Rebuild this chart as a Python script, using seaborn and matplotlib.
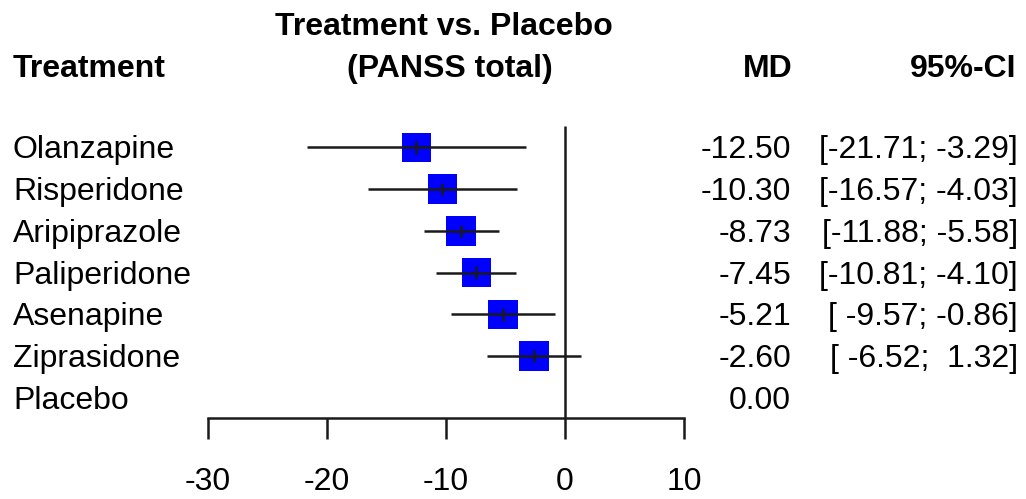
import numpy as np
import pandas as pd
import matplotlib
matplotlib.use("Agg")
import matplotlib.pyplot as plt
import matplotlib.transforms as mtransforms
import seaborn as sns

# Network meta-analysis results: mean difference in PANSS total vs placebo
treatments = ["Olanzapine", "Risperidone", "Aripiprazole", "Paliperidone",
              "Asenapine", "Ziprasidone", "Placebo"]
md = [-12.50, -10.30, -8.73, -7.45, -5.21, -2.60, 0.00]
ci_lower = [-21.71, -16.57, -11.88, -10.81, -9.57, -6.52, np.nan]
ci_upper = [-3.29, -4.03, -5.58, -4.10, -0.86, 1.32, np.nan]
x_ticks = [-30, -20, -10, 0, 10]

df = pd.DataFrame({"treatment": treatments, "md": md,
                   "lower": ci_lower, "upper": ci_upper})
df["row"] = np.arange(len(df))
est = df.dropna(subset=["lower", "upper"])

sns.set_style("white")
plt.rcParams["font.family"] = ["Liberation Sans", "DejaVu Sans"]
plt.rcParams["text.color"] = "black"
FS = 23
INK = "#1a1a1a"
LW = 1.8

W, H = 1026, 499
fig = plt.figure(figsize=(W / 100, H / 100), dpi=100)

# forest panel: x from -30 to 10, axis line along the bottom
row0, row_step = 147.3, 41.75          # pixel centre of first row, row spacing
ax_left, ax_right, ax_bottom = 208, 684, 418
ax = fig.add_axes([ax_left / W, 1 - ax_bottom / H,
                   (ax_right - ax_left) / W, ax_bottom / H])
ax.patch.set_alpha(0)

# line of no effect
ax.vlines(0, (126 - row0) / row_step, (ax_bottom - row0) / row_step,
          color=INK, lw=LW, zorder=1)

# squares for the point estimates
sns.scatterplot(data=est, x="md", y="row", marker="s", s=450,
                color="#0000FF", edgecolor="none", linewidth=0,
                legend=False, ax=ax, zorder=2, clip_on=False)
# confidence intervals and centre ticks
ax.hlines(est["row"], est["lower"], est["upper"], color=INK, lw=LW, zorder=3)
ax.vlines(est["md"], est["row"] - 0.15, est["row"] + 0.15,
          color=INK, lw=LW, zorder=3)

ax.set_xlim(x_ticks[0], x_ticks[-1])
ax.set_ylim((ax_bottom - row0) / row_step, (0 - row0) / row_step)
for side in ("top", "right", "left"):
    ax.spines[side].set_visible(False)
ax.spines["bottom"].set_color(INK)
ax.spines["bottom"].set_linewidth(LW)
ax.set_xticks(x_ticks)
ax.set_xticklabels([str(t) for t in x_ticks])
ax.tick_params(axis="x", bottom=True, direction="out", length=15, width=LW,
               color=INK, pad=20, labelsize=FS, labelcolor="black")
ax.set_yticks([])
ax.set_xlabel("")
ax.set_ylabel("")

# text columns
def px_x(x):
    return x / W

def px_y(y):
    return 1 - y / H

row_tf = mtransforms.blended_transform_factory(fig.transFigure, ax.transData)
base_off = 11 / row_step

for _, r in df.iterrows():
    y = r["row"] + base_off
    ax.text(px_x(13), y, r["treatment"], transform=row_tf, ha="left",
            va="baseline", fontsize=FS, clip_on=False)
    ax.text(px_x(791), y, f"{r['md']:.2f}", transform=row_tf, ha="right",
            va="baseline", fontsize=FS, clip_on=False)
    if not np.isnan(r["lower"]):
        ax.text(px_x(1018), y, f"[{r['lower']:6.2f}; {r['upper']:5.2f}]",
                transform=row_tf, ha="right", va="baseline", fontsize=FS,
                clip_on=False)

# column headers
fig.text(px_x(13), px_y(77), "Treatment", ha="left", va="baseline",
         fontsize=FS, fontweight="bold")
fig.text(px_x(444), px_y(35), "Treatment vs. Placebo", ha="center",
         va="baseline", fontsize=FS, fontweight="bold")
fig.text(px_x(450), px_y(77), "(PANSS total)", ha="center", va="baseline",
         fontsize=FS, fontweight="bold")
fig.text(px_x(793), px_y(77), "MD", ha="right", va="baseline",
         fontsize=FS, fontweight="bold")
fig.text(px_x(1016), px_y(77), "95%-CI", ha="right", va="baseline",
         fontsize=FS, fontweight="bold")

fig.savefig("out.png", dpi=100)
